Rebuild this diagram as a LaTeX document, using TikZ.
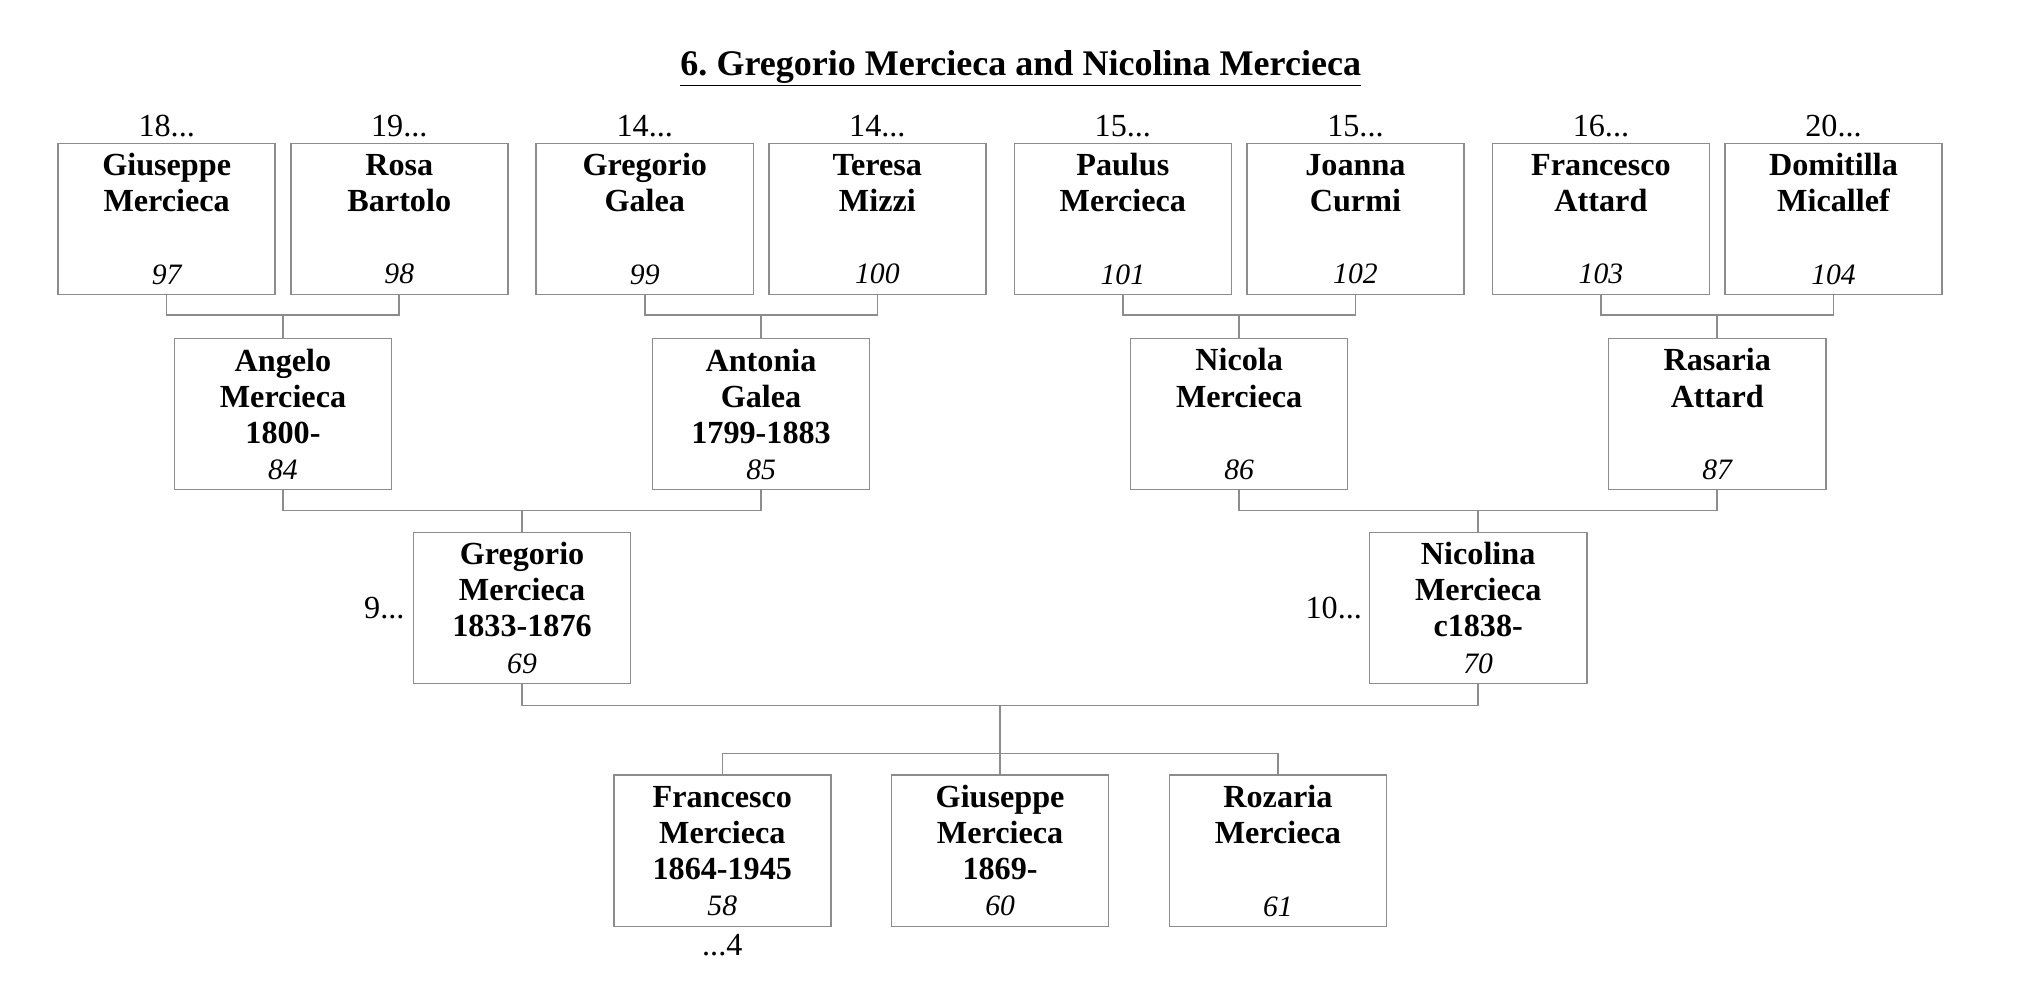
\documentclass[tikz,border=0pt]{standalone}
\usepackage{fontspec}
\setmainfont{Liberation Serif}
\frenchspacing
\usetikzlibrary{positioning, calc}

\newcommand{\pnum}[1]{{\normalfont\itshape\fontsize{23}{26}\selectfont #1}}

\begin{document}
\begin{tikzpicture}[
    x=1bp, y=1bp,
    node distance=12bp,
    person/.style={rectangle, draw=black!45, line width=1.2bp, minimum width=168bp, minimum height=117bp, inner sep=0pt, outer sep=0pt, align=center, font=\fontsize{25}{28}\selectfont\bfseries},
    gen/.style={inner sep=0pt, outer sep=0pt, font=\fontsize{25}{28}\selectfont},
    link/.style={draw=black!45, line width=1.2bp}
]
    \useasboundingbox (0,0) rectangle (1568,772);

    \node[font=\fontsize{28}{32}\selectfont\bfseries] (title) at (790,719) {\underline{6. Gregorio Mercieca and Nicolina Mercieca}};

    % great-grandparents
    \node[person] (p97) at (129,602.5) {Giuseppe\\Mercieca\\[28bp]\pnum{97}};
    \node[person, right=of p97] (p98) {Rosa\\Bartolo\\[28bp]\pnum{98}};
    \node[person, right=22bp of p98] (p99) {Gregorio\\Galea\\[28bp]\pnum{99}};
    \node[person, right=of p99] (p100) {Teresa\\Mizzi\\[28bp]\pnum{100}};
    \node[person, right=22bp of p100] (p101) {Paulus\\Mercieca\\[28bp]\pnum{101}};
    \node[person, right=of p101] (p102) {Joanna\\Curmi\\[28bp]\pnum{102}};
    \node[person, right=22bp of p102] (p103) {Francesco\\Attard\\[28bp]\pnum{103}};
    \node[person, right=of p103] (p104) {Domitilla\\Micallef\\[28bp]\pnum{104}};

    \node[gen, above=5bp of p97] (g97) {18...};
    \node[gen, above=5bp of p98] (g98) {19...};
    \node[gen, above=5bp of p99] (g99) {14...};
    \node[gen, above=5bp of p100] (g100) {14...};
    \node[gen, above=5bp of p101] (g101) {15...};
    \node[gen, above=5bp of p102] (g102) {15...};
    \node[gen, above=5bp of p103] (g103) {16...};
    \node[gen, above=5bp of p104] (g104) {20...};

    % grandparents
    \coordinate (f1) at ($(p97.south)!0.5!(p98.south)+(0,-16)$);
    \coordinate (f2) at ($(p99.south)!0.5!(p100.south)+(0,-16)$);
    \coordinate (f3) at ($(p101.south)!0.5!(p102.south)+(0,-16)$);
    \coordinate (f4) at ($(p103.south)!0.5!(p104.south)+(0,-16)$);
    \node[person, below=18bp of f1] (p84) {Angelo\\Mercieca\\1800-\\\pnum{84}};
    \node[person, below=18bp of f2] (p85) {Antonia\\Galea\\1799-1883\\\pnum{85}};
    \node[person, below=18bp of f3] (p86) {Nicola\\Mercieca\\[28bp]\pnum{86}};
    \node[person, below=18bp of f4] (p87) {Rasaria\\Attard\\[28bp]\pnum{87}};

    % parents
    \coordinate (f5) at ($(p84.south)!0.5!(p85.south)+(0,-16)$);
    \coordinate (f6) at ($(p86.south)!0.5!(p87.south)+(0,-16)$);
    \node[person, below=17bp of f5] (p69) {Gregorio\\Mercieca\\1833-1876\\\pnum{69}};
    \node[person, below=17bp of f6] (p70) {Nicolina\\Mercieca\\c1838-\\\pnum{70}};
    \node[gen, left=7bp of p69] (g69) {9...};
    \node[gen, left=6bp of p70] (g70) {10...};

    % children
    \coordinate (f7) at ($(p69.south)!0.5!(p70.south)+(0,-17)$);
    \coordinate (f8) at ($(f7)+(0,-37)$);
    \node[person, below=17bp of f8] (p60) {Giuseppe\\Mercieca\\1869-\\\pnum{60}};
    \node[person, left=47bp of p60] (p58) {Francesco\\Mercieca\\1864-1945\\\pnum{58}};
    \node[person, right=47bp of p60] (p61) {Rozaria\\Mercieca\\[28bp]\pnum{61}};
    \node[gen, below=6bp of p58] (g58) {...4};

    \draw[link] (p97.south) |- (f1) -| (p98.south);
    \draw[link] (p99.south) |- (f2) -| (p100.south);
    \draw[link] (p101.south) |- (f3) -| (p102.south);
    \draw[link] (p103.south) |- (f4) -| (p104.south);
    \draw[link] (f1) -- (p84.north);
    \draw[link] (f2) -- (p85.north);
    \draw[link] (f3) -- (p86.north);
    \draw[link] (f4) -- (p87.north);
    \draw[link] (p84.south) |- (f5) -| (p85.south);
    \draw[link] (p86.south) |- (f6) -| (p87.south);
    \draw[link] (f5) -- (p69.north);
    \draw[link] (f6) -- (p70.north);
    \draw[link] (p69.south) |- (f7) -| (p70.south);
    \draw[link] (f7) -- (f8);
    \draw[link] (p58.north) |- (f8) -| (p61.north);
    \draw[link] (f8) -- (p60.north);
\end{tikzpicture}
\end{document}
